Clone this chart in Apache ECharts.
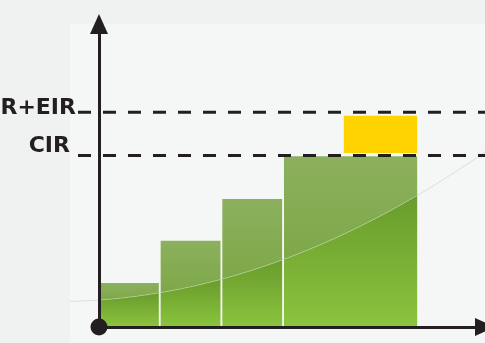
<!DOCTYPE html>
<html><head><meta charset="utf-8">
<script src="https://cdn.jsdelivr.net/npm/echarts@6/dist/echarts.min.js"></script>
<style>html,body{margin:0;padding:0;background:#f0f2f2}#c{width:485px;height:343px}</style>
</head><body><div id="c"></div>
<script>
// ---- data ----
const barStart = [0.02, 1, 2, 3];
const barEnd = [0.97, 1.97, 2.97, 5.16];
const barValue = [1.03, 2.02, 3.0, 4.0];
const excessStart = [3.97];
const excessEnd = [5.16];
const excessLow = [4.08];
const excessHigh = [4.95];
const refNames = ['CIR+EIR', 'CIR'];
const refValues = [5.03, 4.02];

// ---- styling ----
const INK = '#231f20';
const labelGap = [2, 8];
const labelDy = [-4, -9];
function glossY(origin, px) { const dx = px - origin[0]; return origin[1] - 27 - 0.0699 * dx - 0.000813 * dx * dx; }
function curvePts(origin, xa, xb, n) { const pts = []; for (let i = 0; i <= n; i++) { const x = xa + (xb - xa) * i / n; pts.push([x, glossY(origin, x)]); } return pts; }
function lin(c0, c1) { return { type: 'linear', x: 0, y: 0, x2: 0, y2: 1, colorStops: [{ offset: 0, color: c0 }, { offset: 1, color: c1 }] }; }

const barData = barValue.map((v, i) => [barStart[i], barEnd[i], v]);
const excessData = excessStart.map((s, i) => [s, excessEnd[i], excessLow[i], excessHigh[i]]);
const refData = refValues.map((v, i) => [v, i]);

const chart = echarts.init(document.getElementById('c'), null, { renderer: 'canvas' });
chart.setOption({
  backgroundColor: '#f0f2f2',
  animation: false,
  graphic: [{ type: 'rect', left: 70, top: 24, z: -10, silent: true, shape: { width: 420, height: 330 }, style: { fill: '#f5f6f6' } }],
  grid: { left: 99, right: -2, top: 24, bottom: 16 },
  xAxis: {
    type: 'value', min: 0, max: 6.26, z: 10,
    axisLine: { show: true, symbol: ['none', 'triangle'], symbolSize: [18, 20], lineStyle: { color: INK, width: 3 } },
    axisTick: { show: false }, axisLabel: { show: false }, splitLine: { show: false }
  },
  yAxis: {
    type: 'value', min: 0, max: 7.1, z: 10,
    axisLine: { show: true, symbol: ['none', 'triangle'], symbolSize: [18, 20], lineStyle: { color: INK, width: 3 } },
    axisTick: { show: false }, axisLabel: { show: false }, splitLine: { show: false }
  },
  series: [
    { // faint gloss line across the panel
      type: 'custom', z: 1, silent: true, data: [[0]],
      renderItem(params, api) {
        const o = api.coord([0, 0]);
        return { type: 'polyline', shape: { points: curvePts(o, 70, 490, 60) }, style: { stroke: 'rgba(190,196,196,0.45)', lineWidth: 1, fill: null } };
      }
    },
    {
      type: 'custom', z: 2, data: barData,
      renderItem(params, api) {
        const o = api.coord([0, 0]);
        const x0 = api.coord([api.value(0), 0])[0];
        const x1 = api.coord([api.value(1), 0])[0];
        const yt = api.coord([0, api.value(2)])[1];
        const yb = o[1];
        const cur = curvePts(o, x0, x1, 24);
        const above = [[x0, yt], [x1, yt]].concat(cur.slice().reverse());
        const below = cur.concat([[x1, yb], [x0, yb]]);
        return { type: 'group', children: [
          { type: 'polygon', shape: { points: above }, style: { fill: lin('#8cb05d', '#7ea849') } },
          { type: 'polygon', shape: { points: below }, style: { fill: lin('#689c2c', '#8bc43e') } },
          { type: 'polyline', shape: { points: cur }, style: { stroke: 'rgba(255,255,255,0.3)', lineWidth: 1, fill: null } }
        ] };
      }
    },
    {
      type: 'custom', z: 3, data: excessData,
      renderItem(params, api) {
        const p0 = api.coord([api.value(0), api.value(3)]);
        const p1 = api.coord([api.value(1), api.value(2)]);
        return { type: 'rect', shape: { x: p0[0], y: p0[1], width: p1[0] - p0[0], height: p1[1] - p0[1] }, style: { fill: '#ffd300' } };
      }
    },
    {
      type: 'custom', z: 4, data: refData,
      renderItem(params, api) {
        const i = api.value(1);
        const p = api.coord([0, api.value(0)]);
        const xs = p[0] - 21;
        return { type: 'group', children: [
          { type: 'line', shape: { x1: xs, y1: p[1], x2: 495, y2: p[1] }, style: { stroke: INK, lineWidth: 3, lineDash: [13, 12] } },
          { type: 'text', style: { text: refNames[i], x: xs - labelGap[i], y: p[1] + labelDy[i], align: 'right', verticalAlign: 'middle',
            fontFamily: 'DejaVu Sans', fontWeight: 'bold', fontSize: 22, fill: INK } }
        ] };
      }
    },
    {
      type: 'scatter', z: 20, clip: false, data: [[0, 0]], symbolSize: 17, itemStyle: { color: INK, opacity: 1 }, silent: true
    }
  ]
});
</script></body></html>
